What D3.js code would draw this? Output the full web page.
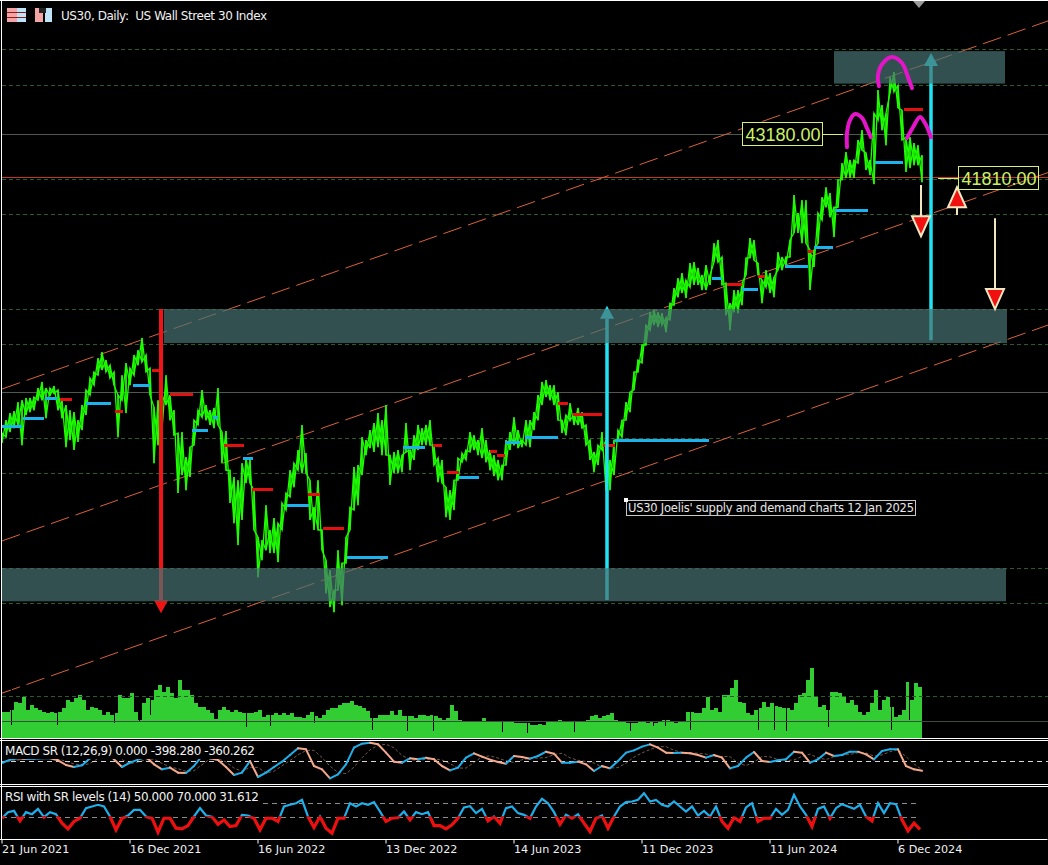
<!DOCTYPE html>
<html>
<head>
<meta charset="utf-8">
<title>US30 Daily</title>
<script src="https://cdn.jsdelivr.net/npm/d3@7"></script>
<style>
html, body { margin: 0; padding: 0; background: #000; overflow: hidden; }
svg { display: block; }
text { font-family: "DejaVu Sans", sans-serif; white-space: pre; }
</style>
</head>
<body>
<div id="chart"></div>
<script>
// bars are one pixel wide on the source chart, samples are read every few bars
const priceStep = 4, macdStep = 8, rsiStep = 6;

const priceHigh = [33870,34270,34490,34550,34830,34890,34960,34960,34990,35270,35460,35270,35270,35330,35210,34890,34740,34580,34520,34270,34740,35210,35580,35770,36200,36390,36140,35980,35770,35050,35670,36050,35890,36300,36450,36830,36300,35890,34680,34890,35050,35670,35050,34580,33870,33900,33120,33430,34270,34580,35210,34740,34580,34650,35270,33900,33930,32710,32500,32400,32930,33120,33030,32090,30630,30530,31620,30850,31220,31060,31690,32000,32710,32930,33340,34120,33240,32400,31560,32400,30850,29910,29600,28980,30220,29820,30630,31560,32810,32870,33740,33650,33960,34180,34490,34270,34740,33180,33280,33340,33180,34180,33340,33800,34120,34020,34120,34270,33490,33090,33030,32180,32090,32400,33090,33240,33340,33900,33800,33650,34020,33650,33340,33180,33030,32870,33650,33900,34360,33960,33650,34270,34270,34520,35050,35460,35520,35360,35360,35140,34270,34430,34800,34430,34650,34520,34120,33650,33280,33490,33900,33650,33030,33650,33960,34270,34830,35140,35770,36140,36610,37230,37630,37700,37630,37600,37450,37910,38380,38690,38850,38630,39160,39190,39010,38790,39100,38790,39780,39880,39350,38540,37910,38320,38320,38540,39320,39940,39880,39160,38630,38940,38850,38720,39500,39350,39350,39880,41280,40720,41120,41120,39570,39570,40720,41210,41520,41340,40900,41750,42270,42620,42370,42370,42990,43300,42590,42370,43830,44550,44080,43830,44950,45110,44700,43920,43080,43080,42900,42830,42520];
const priceLow = [33560,33740,33900,34020,34120,33490,34430,34520,34580,34890,34890,34330,35020,35110,34580,34330,33430,33650,33340,33590,33960,34430,35050,35360,35670,35830,35770,35580,35360,33740,34890,34490,35360,35670,35980,36080,35770,35050,32930,33490,33960,34740,34270,33800,32000,32560,32090,32500,33490,34120,34360,34270,34120,34020,34120,32930,32710,31690,31060,30380,31160,32310,32310,30850,29380,29910,30220,30130,30130,29850,30850,31470,31880,32180,32710,32620,32620,31160,30850,30850,30220,28880,28450,28290,28980,28510,29820,30850,31470,31620,32560,33180,33400,33280,33430,33180,33180,32250,32620,32620,32650,33280,32710,33030,33340,33490,33490,33490,32870,32340,32310,31250,31160,31470,32400,32960,33030,33280,33340,33180,33090,32960,32710,32530,32400,32400,32870,33340,33490,33400,33430,33490,33430,33960,34270,34740,34990,34890,34740,34270,33870,33800,34270,34120,34120,34020,33490,33030,32650,32870,33340,32090,32090,32560,33650,33740,34270,34520,35210,35770,36050,36610,37070,37230,37170,37230,37010,37390,37850,38100,38230,38070,38410,38480,38480,38320,38320,38480,39190,39190,38480,37540,37070,37630,37600,37850,38790,39320,39250,38790,37910,38410,38230,38100,38940,38940,39100,39350,40100,40100,39780,39780,38320,39040,39780,40500,40900,40590,39970,40900,41750,41810,41810,41810,42270,42680,42060,41900,41620,43610,43300,42830,44450,44490,43990,42990,42000,42120,42210,42210,41680];

// tick volume in hundreds, with the one-bar drops listed apart
const volume = [26,26,28,36,35,41,28,33,30,28,26,25,26,25,26,30,38,36,40,43,38,28,31,30,28,23,26,23,25,43,40,40,45,26,18,35,40,38,48,53,46,51,45,40,58,48,48,43,35,31,31,28,25,19,28,31,28,26,28,26,25,25,25,26,28,21,23,23,25,23,25,23,25,21,21,20,23,26,22,20,23,28,30,30,33,35,35,37,33,32,30,27,20,20,23,23,23,27,23,28,22,22,22,20,23,23,22,23,22,20,18,20,33,27,18,17,17,17,17,17,20,17,17,17,17,17,17,16,15,15,15,15,13,13,14,13,17,17,17,18,17,17,17,17,17,17,18,22,23,20,22,23,25,18,17,17,15,15,15,16,16,15,17,15,17,18,18,17,15,17,16,26,26,25,25,30,41,28,30,26,43,43,50,58,36,35,25,23,28,30,36,31,35,32,31,30,30,28,35,43,45,58,70,41,31,33,28,46,46,45,41,35,38,33,26,23,26,35,48,28,38,41,31,21,23,28,56,38,55,51,50];
const volumeDropBar = [9,55,112,137,148,244,268,312,370,405,431,500,525,572,628,651,663,688,756,772,784,826,889,907];
const volumeDropValue = [13,13,15,16,23,11,12,15,8,7,7,6,5,6,7,12,12,8,8,8,7,11,8,18];

const macd = [-82,55,109,82,96,109,109,27,-164,-246,-178,109,342,342,68,-246,-68,55,164,-137,-342,-273,-478,-492,-205,205,109,41,-246,-574,-478,0,-656,-478,-246,-27,246,519,478,-205,-342,-711,-547,-137,547,711,752,684,342,-27,-68,109,68,137,68,-205,-383,-273,137,314,178,55,-41,-109,205,164,96,205,383,301,-68,-68,-27,-137,-410,-205,-301,0,342,437,588,683,547,342,328,342,314,246,137,246,137,-301,-205,137,369,0,-41,27,68,383,342,-68,68,342,205,246,383,383,273,68,410,478,478,-205,-342,-398];
const macdSignal = [-60,-20,40,70,85,95,105,85,-10,-120,-180,-100,100,260,250,60,-110,-40,50,80,-100,-240,-320,-420,-400,-150,80,90,-40,-290,-420,-260,-260,-490,-420,-200,20,250,430,440,140,-210,-470,-520,-250,130,460,640,690,540,230,60,20,70,90,40,-110,-290,-290,-60,170,210,120,10,-60,50,120,120,140,260,320,130,30,-20,-80,-250,-290,-270,-90,160,330,470,590,590,440,350,330,320,280,190,190,180,-80,-190,-50,190,170,60,20,40,190,280,130,60,180,240,270,340,330,200,250,380,460,180,-120,-360];

const rsi = [47.6,56.2,58.1,43.8,56.2,53.3,60.9,49,56.2,53.3,40.5,32.4,42.9,47.6,61.9,64.3,66.7,64.3,50,31,47.6,51.4,59.5,59.5,50,47.6,27.6,47.6,47.6,33.3,32.4,37.1,50,61.9,51.4,49.5,39,45.2,35.7,37.1,52.4,51.4,47.6,31,47.6,47.6,42.9,64.3,66.7,69,73.8,50,34.3,50,33.3,26.2,47.6,47.6,69,64.3,69,66.7,70.5,57.1,42.9,47.6,48.6,57.1,45.2,56.2,53.3,56.2,37.1,37.1,32.4,38.1,47.6,62.9,64.8,54.8,60.9,43.8,50,40.5,61.9,64.3,54.8,52.4,47.6,64.3,75.2,69,56.2,39,52.4,47.6,53.3,40.5,28.6,47.6,51.4,33.3,50,64.3,70.5,71.4,73.8,83.3,71.4,73.8,66.7,64.3,71.4,64.3,57.1,64.3,51.4,58.1,50,64.3,42.9,33.3,48.6,42.9,62.9,69,42.9,47.6,47.6,60.9,52.4,59.5,80.9,64.3,52.4,35.7,60.9,64.3,47.6,61.9,67.6,64.3,60.9,66.7,50,43.8,69,54.8,69,67.6,45.2,29.5,40.5,31.6];
const rsiLevels = [70, 50];

const dateBars = [0,128,256,384,512,640,768,896];
const dateLabels = ["21 Jun 2021","16 Dec 2021","16 Jun 2022","13 Dec 2022","14 Jun 2023","11 Dec 2023","11 Jun 2024","6 Dec 2024"];

const gridPrices = [45820,44700,41780,40690,37730,36640,33710,32620,29660,28570];
const grayLinePrices = [43180,35140];
const redLinePrice = 41840;

// [from bar, price] to [to bar, price]
const channels = [[0,35240,1046,46700],[0,30510,1046,41980],[0,25770,1046,37230]];
// [from bar, to bar, top price, bottom price]
const zones = [[832,1003,45760,44750],[162,1005,37730,36670],[0,1004,29660,28630]];

// [from bar, to bar, price]
const supportLevels = [[0,20,34090],[21,42,34340],[43,55,34960],[84,109,34800],[131,148,35360],[190,206,33960],[211,216,34360],[241,251,33090],[285,307,31620],[345,386,30000],[401,423,33430],[457,477,32500],[503,518,33590],[523,556,33740],[613,707,33650],[710,720,38690],[740,756,38350],[783,806,39070],[812,831,39660],[833,866,40810],[873,901,42300]];
const resistLevels = [[0,3,34090],[58,70,34920],[113,121,34550],[150,161,35830],[168,191,35080],[222,242,33490],[250,271,32120],[306,318,31970],[321,342,30910],[431,440,33490],[445,457,32650],[488,495,33310],[495,503,33180],[556,566,34800],[571,600,34460],[601,613,33490],[725,740,38510],[756,763,38760],[806,811,39530],[902,921,43950]];

// [bar, start price, end price]
const redArrow = [159,37730,28660];
const cyanArrows = [[605,28670,37430],[929,36760,45300]];
const paleDownArrows = [[919,41590,40620],[993,40560,38350]];
const paleUpArrow = [955,40660,40900];

const shoulderBars = [[845,845,848,853,860,865,869],[877,876,881,890,900,906,910],[905,911,918,923,929]];
const shoulderPrices = [[42770,43210,43610,43800,43680,43360,43080],[44670,45010,45390,45580,45390,44950,44610],[43050,43390,43710,43520,43080]];

const priceLabels = [43180,41810];
const macdLabel = "MACD SR (12,26,9) 0.000 -398.280 -360.262";
const rsiLabel = "RSI with SR levels (14) 50.000 70.000 31.612";
const noteLabel = "US30 Joelis' supply and demand charts 12 Jan 2025";
const titleLabel = "US30, Daily:  US Wall Street 30 Index";

function configuration(){
    let width = 1048;
    let height = 865;
    let svg = d3.select("#chart").append("svg")
                .attr("width", width)
                .attr("height", height)
                .style("background", "#000");
    let xScale = d3.scaleLinear().domain([0,1046]).range([2,1048]);
    let yPrice = d3.scaleLinear().domain([41810,43180]).range([178,134]);
    let yVolume = d3.scaleLinear().domain([0,70]).range([738,668]);
    let yMacd = d3.scaleLinear().domain([0,410]).range([761,751]);
    let yRsi = d3.scaleLinear().domain([50,70]).range([816.5,802.5]);
    return { width, height, svg, xScale, yPrice, yVolume, yMacd, yRsi };
}

function hLine(g, x1, x2, y, color, dash, w){
    g.append("line")
        .attr("x1", x1).attr("x2", x2)
        .attr("y1", Math.round(y)+0.5).attr("y2", Math.round(y)+0.5)
        .attr("stroke", color)
        .attr("stroke-width", w || 1)
        .attr("stroke-dasharray", dash || null);
}

function drawMain(config){
    let { svg, xScale, yPrice, width } = config;
    let g = svg.append("g");

    gridPrices.forEach(p => hLine(g, 2, width, yPrice(p), "#2b5a2b", "4,3"));
    grayLinePrices.forEach(p => hLine(g, 2, width, yPrice(p), "#4c5a50"));
    hLine(g, 2, width, yPrice(redLinePrice), "#c8361f");

    channels.forEach(c => {
        g.append("line")
            .attr("x1", xScale(c[0])).attr("y1", yPrice(c[1]))
            .attr("x2", xScale(c[2])).attr("y2", yPrice(c[3]))
            .attr("stroke", "#d9623a")
            .attr("stroke-dasharray", "19,7");
    });

    // high-low stroke at each sample, crossed with the next sample so the band looks dense
    let priceLine = d3.line()
        .x(d => xScale(d[0]))
        .y(d => yPrice(d[1]));
    let down = priceHigh.flatMap((h,i) => [[i*priceStep,h],[i*priceStep,priceLow[i]]]);
    let up = priceHigh.flatMap((h,i) => [[i*priceStep,priceLow[i]],[i*priceStep,h]]);
    [down, up].forEach(points => {
        g.append("path")
            .attr("d", priceLine(points))
            .attr("fill", "none")
            .attr("stroke", "#1efc00")
            .attr("stroke-width", 1.3);
    });

    let drawLevels = (levels, color) => levels.forEach(l => {
        g.append("rect")
            .attr("x", xScale(l[0])).attr("width", xScale(l[1])-xScale(l[0]))
            .attr("y", Math.round(yPrice(l[2]))-1).attr("height", 3)
            .attr("fill", color);
    });
    drawLevels(resistLevels, "#e31010");
    drawLevels(supportLevels, "#1cb2ee");

    // thick arrows run under the zones so the zones dim them
    let thickArrow = (a, color, lw) => {
        let x = xScale(a[0]), y1 = yPrice(a[1]), y2 = yPrice(a[2]);
        let dir = y2 > y1 ? 1 : -1;
        g.append("line").attr("x1", x).attr("x2", x)
            .attr("y1", y1).attr("y2", y2)
            .attr("stroke", color).attr("stroke-width", lw);
        g.append("path")
            .attr("d", d3.line()([[x-7,y2],[x+7,y2],[x,y2+dir*13]])+"Z")
            .attr("fill", color);
    };
    thickArrow(redArrow, "#f01414", 4);
    cyanArrows.forEach(a => thickArrow(a, "#1fe3f5", 3.5));

    zones.forEach(z => {
        g.append("rect")
            .attr("x", xScale(z[0])).attr("width", xScale(z[1])-xScale(z[0]))
            .attr("y", yPrice(z[2])).attr("height", yPrice(z[3])-yPrice(z[2]))
            .attr("fill", "#497272")
            .attr("opacity", 0.7);
    });

    // pale arrows with red heads
    let paleHead = (x, y, dir) => {
        g.append("path")
            .attr("d", d3.line()([[x-9,y],[x+9,y],[x,y+dir*20]])+"Z")
            .attr("fill", "#f01010")
            .attr("stroke", "#f4e6c0")
            .attr("stroke-width", 2);
    };
    paleDownArrows.forEach(a => {
        let x = xScale(a[0]);
        g.append("line").attr("x1", x).attr("x2", x)
            .attr("y1", yPrice(a[1])).attr("y2", yPrice(a[2]))
            .attr("stroke", "#f0e6c0").attr("stroke-width", 2);
        paleHead(x, yPrice(a[2]), 1);
    });
    let upX = xScale(paleUpArrow[0]);
    g.append("line").attr("x1", upX).attr("x2", upX)
        .attr("y1", yPrice(paleUpArrow[1])).attr("y2", yPrice(paleUpArrow[2]))
        .attr("stroke", "#f0e6c0").attr("stroke-width", 2);
    paleHead(upX, yPrice(paleUpArrow[2]), -1);

    // hand drawn head and shoulders
    let arc = d3.line()
        .x(d => xScale(d[0]))
        .y(d => yPrice(d[1]))
        .curve(d3.curveCatmullRom);
    shoulderBars.forEach((bars,i) => {
        g.append("path")
            .attr("d", arc(bars.map((b,j) => [b, shoulderPrices[i][j]])))
            .attr("fill", "none")
            .attr("stroke", "#e414c8")
            .attr("stroke-width", 4)
            .attr("stroke-linecap", "round");
    });

    // boxed price labels with a short leader
    let boxes = [{ x: 742, leader: [823,843] }, { x: 958, leader: [938,958] }];
    priceLabels.forEach((p,i) => {
        let y = Math.round(yPrice(p));
        hLine(g, boxes[i].leader[0], boxes[i].leader[1], y, "#d4f07a");
        g.append("rect")
            .attr("x", boxes[i].x+0.5).attr("y", y-12+0.5)
            .attr("width", 80).attr("height", 23)
            .attr("fill", i == 0 ? "#000" : "none")
            .attr("stroke", "#d4f07a");
        g.append("text")
            .attr("x", boxes[i].x+41).attr("y", y+6.5)
            .attr("text-anchor", "middle")
            .style("font-family", "'Liberation Sans', sans-serif")
            .style("font-size", "18px")
            .attr("fill", "#cdf06a")
            .text(p.toFixed(2));
    });

    // note text with its selection handle
    g.append("rect")
        .attr("x", 626.5).attr("y", 500.5)
        .attr("width", 289).attr("height", 15)
        .attr("fill", "#000")
        .attr("stroke", "#c8c8c8");
    g.append("rect")
        .attr("x", 624).attr("y", 498).attr("width", 4).attr("height", 4)
        .attr("fill", "#fff");
    g.append("text")
        .attr("x", 628).attr("y", 512)
        .attr("textLength", 286)
        .style("font-size", "11.5px")
        .attr("fill", "#e8e8e8")
        .text(noteLabel);

    g.append("path")
        .attr("d", "M913,1L925,1L919,8Z")
        .attr("fill", "#9a9a9a");

    drawVolume(g, config);
    drawHeader(g);
}

function drawVolume(g, config){
    let { xScale, yVolume, width } = config;
    let volumeArea = d3.area()
        .x((d,i) => xScale(i*priceStep))
        .y0(yVolume(0))
        .y1(d => yVolume(d))
        .curve(d3.curveStepAfter);
    g.append("path")
        .attr("d", volumeArea(volume))
        .attr("fill", "#32cd32");
    volumeDropBar.forEach((b,i) => {
        g.append("line")
            .attr("x1", xScale(b)+0.5).attr("x2", xScale(b)+0.5)
            .attr("y1", yVolume(volumeDropValue[i]))
            .attr("y2", yVolume(60))
            .attr("stroke", "#000");
    });
    hLine(g, 2, width, yVolume(42), "#2b5a2b", "4,3");
    hLine(g, 2, width, yVolume(17), "#3c4c40");
}

function drawHeader(g){
    let icon = g.append("g");
    icon.append("rect").attr("x",7).attr("y",8).attr("width",10).attr("height",14).attr("fill","#f4a4a4");
    icon.append("rect").attr("x",17).attr("y",8).attr("width",9).attr("height",14).attr("fill","#bfe4f8");
    [12,17].forEach(y => icon.append("rect").attr("x",7).attr("y",y).attr("width",19).attr("height",1).attr("fill","#8a1c1c"));
    icon.append("rect").attr("x",35).attr("y",8).attr("width",8).attr("height",14).attr("fill","#f4a4a4");
    icon.append("rect").attr("x",45).attr("y",8).attr("width",7).attr("height",14).attr("fill","#bfe4f8");
    icon.append("rect").attr("x",39).attr("y",8).attr("width",7).attr("height",5).attr("fill","#222");
    g.append("text")
        .attr("x", 61).attr("y", 20)
        .attr("textLength", 206)
        .style("font-size", "12px")
        .attr("fill", "#f0f0f0")
        .text(titleLabel);
}

function drawMacd(config){
    let { svg, xScale, yMacd, width } = config;
    let g = svg.append("g");
    hLine(g, 2, width, yMacd(0), "#d8d8d8", "5,4");

    let line = d3.line()
        .x((d,i) => xScale(i*macdStep))
        .y(d => yMacd(d));
    g.append("path")
        .attr("d", line(macdSignal))
        .attr("fill", "none")
        .attr("stroke", "#f0b9a0")
        .attr("stroke-width", 0.8)
        .attr("opacity", 0.6)
        .attr("stroke-dasharray", "3,2");
    // blue while rising, salmon while falling
    macd.forEach((v,i) => {
        if(i == 0) return;
        g.append("line")
            .attr("x1", xScale((i-1)*macdStep)).attr("y1", yMacd(macd[i-1]))
            .attr("x2", xScale(i*macdStep)).attr("y2", yMacd(v))
            .attr("stroke", v >= macd[i-1] ? "#1fb0ec" : "#f5a98c")
            .attr("stroke-width", 2)
            .attr("stroke-linecap", "round");
    });

    g.append("rect")
        .attr("x", 2).attr("y", 742).attr("width", 254).attr("height", 17)
        .attr("fill", "#000");
    g.append("text")
        .attr("x", 5).attr("y", 755)
        .attr("textLength", 250)
        .style("font-size", "12px")
        .attr("fill", "#f0f0f0")
        .text(macdLabel);
}

function drawRsi(config){
    let { svg, xScale, yRsi, width } = config;
    let g = svg.append("g");
    rsiLevels.forEach(l => hLine(g, 2, 920, yRsi(l), "#8c8c8c", "5,4"));

    svg.append("clipPath").attr("id", "rsiUp").append("rect")
        .attr("x", 0).attr("y", 787).attr("width", width).attr("height", yRsi(50)-787);
    svg.append("clipPath").attr("id", "rsiDown").append("rect")
        .attr("x", 0).attr("y", yRsi(50)).attr("width", width).attr("height", 839-yRsi(50));

    let line = d3.line()
        .x((d,i) => xScale(i*rsiStep))
        .y(d => yRsi(d));
    g.append("path")
        .attr("d", line(rsi))
        .attr("fill", "none")
        .attr("stroke", "#1fb0ec")
        .attr("stroke-width", 2.2)
        .attr("clip-path", "url(#rsiUp)");
    g.append("path")
        .attr("d", line(rsi))
        .attr("fill", "none")
        .attr("stroke", "#ee1010")
        .attr("stroke-width", 3.2)
        .attr("clip-path", "url(#rsiDown)");

    g.append("rect")
        .attr("x", 2).attr("y", 788).attr("width", 260).attr("height", 16)
        .attr("fill", "#000");
    g.append("text")
        .attr("x", 5).attr("y", 801)
        .attr("textLength", 254)
        .style("font-size", "12px")
        .attr("fill", "#f0f0f0")
        .text(rsiLabel);
}

function drawFrames(config){
    let { svg, xScale, width } = config;
    let g = svg.append("g");
    [0.5,738.5,740.5,784.5,786.5].forEach(y => hLine(g, 0, width, y-0.5, "#fff"));
    g.append("line")
        .attr("x1", 1.5).attr("x2", 1.5).attr("y1", 0).attr("y2", 839)
        .attr("stroke", "#fff");

    let axisDates = d3.axisBottom(xScale)
        .tickValues(dateBars)
        .tickFormat((d,i) => dateLabels[i])
        .tickSize(4);
    let axis = g.append("g")
        .attr("transform", "translate(-0.5,839.5)")
        .call(axisDates);
    axis.select(".domain").attr("stroke", "#fff").attr("d", "M0,0H"+width);
    axis.selectAll("line").attr("stroke", "#fff");
    axis.selectAll("text")
        .attr("fill", "#f0f0f0")
        .attr("y", 6)
        .attr("dy", "0.71em")
        .style("text-anchor", "start")
        .style("font-size", "11.2px")
        .style("font-family", "'DejaVu Sans', sans-serif");
}

let config = configuration();
drawMain(config);
drawMacd(config);
drawRsi(config);
drawFrames(config);
</script>
</body>
</html>
